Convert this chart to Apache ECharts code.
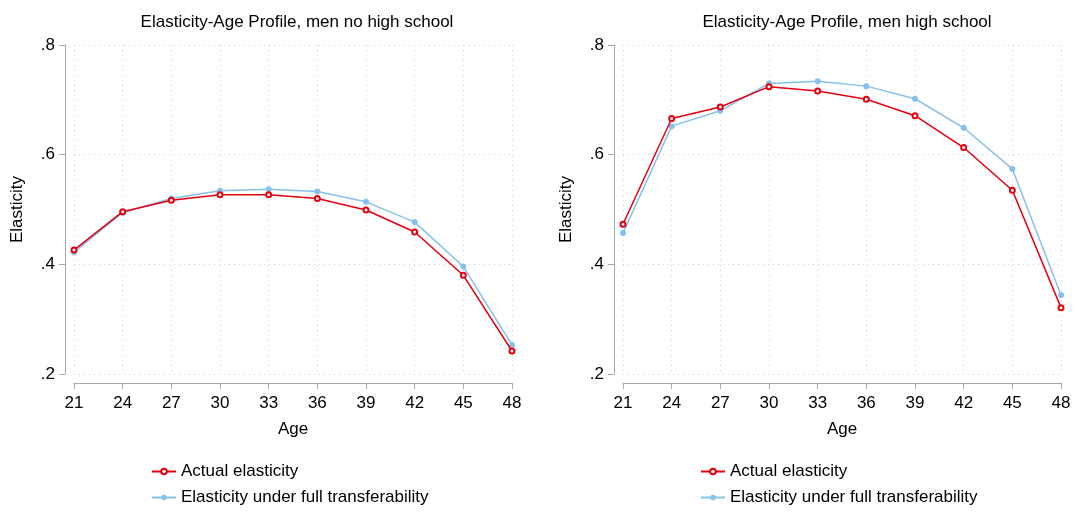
<!DOCTYPE html>
<html>
<head>
<meta charset="utf-8">
<script src="https://cdn.jsdelivr.net/npm/echarts@6/dist/echarts.min.js"></script>
<style>
  html, body { margin: 0; padding: 0; background: #fff; }
  #chart { width: 1076px; height: 515px; }
</style>
</head>
<body>
<div id="chart"></div>
<script>
// ages on the x axis
var ages = [21, 24, 27, 30, 33, 36, 39, 42, 45, 48];
// men no high school
var noHsActual = [0.426, 0.496, 0.517, 0.527, 0.527, 0.520, 0.499, 0.459, 0.380, 0.242];
var noHsFull   = [0.422, 0.494, 0.520, 0.534, 0.537, 0.533, 0.514, 0.477, 0.396, 0.253];
// men high school
var hsActual = [0.473, 0.666, 0.687, 0.724, 0.716, 0.701, 0.671, 0.613, 0.535, 0.321];
var hsFull   = [0.457, 0.652, 0.680, 0.730, 0.734, 0.725, 0.702, 0.649, 0.574, 0.344];
var titles = ['Elasticity-Age Profile, men no high school', 'Elasticity-Age Profile, men high school'];
var names = ['Actual elasticity', 'Elasticity under full transferability'];

var font = 'Liberation Sans, Arial, sans-serif';
var red = '#e3000f';
var blue = '#86c1eb';
var axisGray = '#a8a8a8';

function pairs(vals) {
	return ages.map(function (a, i) { return [a, vals[i]]; });
}

function xAxis(idx) {
	return {
		type: 'value', gridIndex: idx, min: 21, max: 48, interval: 3,
		offset: 9,
		name: 'Age', nameLocation: 'middle', nameGap: 38,
		nameTextStyle: { fontFamily: font, fontSize: 17, color: '#000' },
		axisLine: { lineStyle: { color: axisGray, width: 1 } },
		axisTick: { length: 6, lineStyle: { color: axisGray } },
		axisLabel: { fontFamily: font, fontSize: 17, color: '#000', margin: 12 },
		splitLine: { show: true, lineStyle: { type: [1, 4], color: '#cfcfcf' } }
	};
}

function yAxis(idx) {
	return {
		type: 'value', gridIndex: idx, min: 0.2, max: 0.8, interval: 0.2,
		offset: 9,
		name: 'Elasticity', nameLocation: 'middle', nameGap: 39,
		nameTextStyle: { fontFamily: font, fontSize: 17, color: '#000' },
		axisLine: { show: true, lineStyle: { color: axisGray, width: 1 } },
		axisTick: { show: true, length: 6, lineStyle: { color: axisGray } },
		axisLabel: {
			fontFamily: font, fontSize: 17, color: '#000', margin: 10,
			formatter: function (v) { return v.toFixed(1).replace(/^0/, ''); }
		},
		splitLine: { show: true, lineStyle: { type: [1, 4], color: '#cfcfcf' } }
	};
}

function series(name, vals, idx, isActual) {
	return {
		name: name, type: 'line', xAxisIndex: idx, yAxisIndex: idx,
		data: pairs(vals),
		symbol: isActual ? 'emptyCircle' : 'circle',
		symbolSize: isActual ? 5 : 6,
		z: isActual ? 3 : 2,
		lineStyle: { color: isActual ? red : blue, width: 1.5 },
		itemStyle: { color: isActual ? red : blue, borderWidth: 1.2 },
		animation: false
	};
}

function legend(left) {
	return {
		orient: 'vertical', left: left, top: 458, itemGap: 9,
		itemWidth: 24, itemHeight: 7,
		data: names,
		textStyle: { fontFamily: font, fontSize: 17, color: '#000' }
	};
}

var myChart = echarts.init(document.getElementById('chart'));
var option = {
	backgroundColor: '#fff',
	animation: false,
	title: [{
		text: titles[0], left: 292, top: 9, textAlign: 'center',
		textStyle: { fontFamily: font, fontSize: 17, fontWeight: 'normal', color: '#000' }
	}, {
		text: titles[1], left: 842, top: 9, textAlign: 'center',
		textStyle: { fontFamily: font, fontSize: 17, fontWeight: 'normal', color: '#000' }
	}],
	legend: [legend(146), legend(695)],
	grid: [
		{ left: 74, right: 564, top: 45, bottom: 141 },
		{ left: 623, right: 15, top: 45, bottom: 141 }
	],
	xAxis: [xAxis(0), xAxis(1)],
	yAxis: [yAxis(0), yAxis(1)],
	series: [
		series(names[1], noHsFull, 0, false),
		series(names[0], noHsActual, 0, true),
		series(names[1], hsFull, 1, false),
		series(names[0], hsActual, 1, true)
	]
};
myChart.setOption(option);
</script>
</body>
</html>
